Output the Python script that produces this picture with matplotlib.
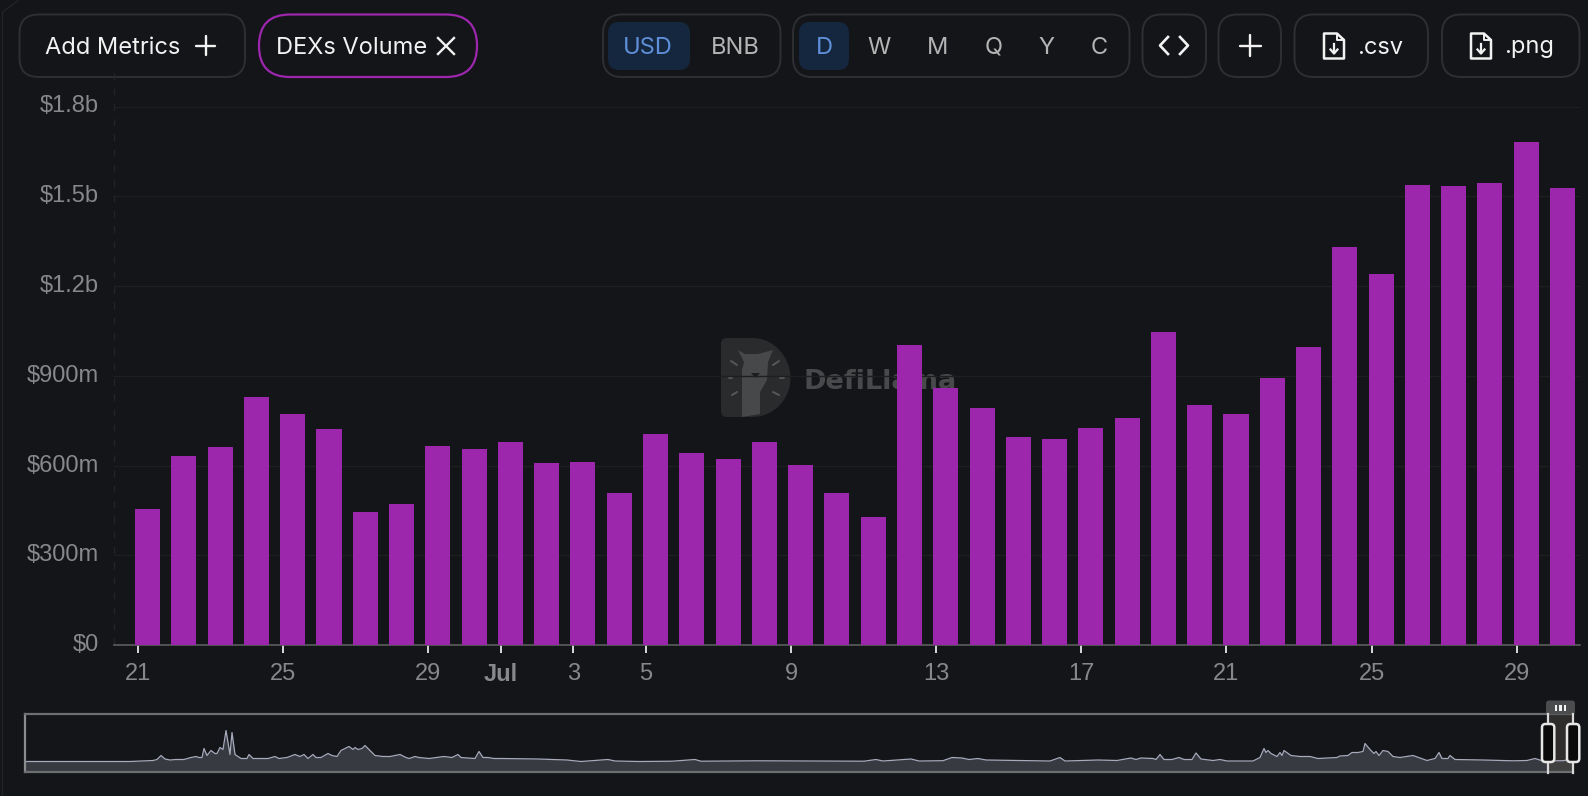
#!/usr/bin/env python3

import numpy as np
from matplotlib import pyplot as plt
from matplotlib.patches import FancyBboxPatch, PathPatch, Polygon, Rectangle
from matplotlib.path import Path

# daily DEX volume in $m, Jun 21 to Jul 30
volume = [456, 632, 663, 829, 771, 721, 443, 470, 664, 656,
          678, 609, 612, 507, 704, 643, 622, 677, 602, 507,
          429, 1003, 860, 792, 694, 687, 724, 758, 1046, 802,
          771, 894, 995, 1331, 1239, 1538, 1534, 1544, 1683, 1527]

tick_days = [0, 4, 8, 10, 12, 14, 18, 22, 26, 30, 34, 38]
tick_labels = ["21", "25", "29", "Jul", "3", "5", "9", "13", "17", "21", "25", "29"]
y_ticks = [0, 300, 600, 900, 1200, 1500, 1800]
y_labels = ["$0", "$300m", "$600m", "$900m", "$1.2b", "$1.5b", "$1.8b"]

# full history in the slider, read by eye
overview_days = [0, 105, 128, 132, 136, 140, 145, 151, 159, 166, 171, 174, 177, 179, 182, 186, 190, 192, 195,
                 198, 201, 205, 207, 210, 216, 222, 224, 228, 235, 243, 250, 254, 262, 270, 275, 279, 283, 288,
                 291, 296, 303, 307, 312, 316, 324, 328, 330, 333, 337, 340, 344, 350, 358, 365, 375, 381, 384,
                 390, 394, 404, 419, 427, 433, 436, 450, 454, 458, 463, 469, 477, 513, 542, 556, 583, 590, 614,
                 647, 670, 676, 705, 733, 781, 810, 839, 851, 858, 886, 894, 918, 927, 937, 944, 953, 961, 992,
                 1025, 1035, 1040, 1073, 1092, 1106, 1111, 1116, 1128, 1131, 1135, 1139, 1147, 1154, 1159, 1167,
                 1171, 1176, 1188, 1195, 1202, 1228, 1235, 1239, 1241, 1243, 1246, 1252, 1255, 1257, 1259, 1266,
                 1275, 1285, 1293, 1312, 1315, 1323, 1327, 1333, 1338, 1340, 1345, 1349, 1351, 1354, 1358, 1363,
                 1368, 1375, 1388, 1402, 1410, 1414, 1417, 1423, 1425, 1430, 1458, 1488, 1502, 1510, 1518, 1538,
                 1545, 1548]
overview_volume = [0, 0, 1, 2, 6, 2.5, 1.5, 2, 2, 4, 5, 4, 4, 13, 6, 11, 8, 8, 14,
                   12, 31, 7, 29, 7, 3, 3, 7, 3, 3, 3, 5, 3, 4, 7, 5, 7, 3, 7,
                   4, 4, 8, 6, 5, 11, 15, 12, 14, 12, 13, 16, 12, 6, 5, 5, 7, 4, 3,
                   5, 4, 3, 5, 4, 7, 4, 3, 10, 4, 4, 3, 3, 2.5, 1.5, 0, 2, 0.5, 0,
                   0.3, 2, 0.3, 0.5, 0.7, 0.5, 0.3, 0.3, 2, 0.5, 2.5, 0.5, 0.8, 4, 3.5, 2, 3, 1.5, 1,
                   0.5, 4, 0.5, 1.5, 1, 3.5, 2, 3.5, 3, 2, 7, 2, 2, 4, 2, 2,
                   8.5, 2.5, 1, 2, 0.5, 0.5, 4, 13, 9, 11, 8, 5, 9, 6, 11, 6,
                   5, 5, 3, 4, 5.5, 6, 9, 9, 10, 18, 12, 8, 10, 6, 11, 10,
                   5, 4, 6, 1, 3, 9, 3, 3, 6, 2, 1.5, 0.7, 1, 3, 0.5, 0.8,
                   2, 4]

BG = "#141518"
PURPLE = "#9c27ad"
BORDER = "#2e2f32"
W, H = 1588, 796

plt.rcParams["font.family"] = ["Liberation Sans", "DejaVu Sans"]

fig = plt.figure(figsize=(W / 100, H / 100), dpi=100, facecolor=BG)


def px_axes(left, top, right, bottom, **kw):
    return fig.add_axes([left / W, 1 - bottom / H, (right - left) / W, (bottom - top) / H], **kw)


# page layer in pixel coordinates: buttons and watermark
ui = px_axes(0, 0, W, H, zorder=1)
ui.set_xlim(0, W)
ui.set_ylim(H, 0)
ui.axis("off")


def box(x0, x1, y0=14.5, y1=77, edge=BORDER, face="none", r=19, lw=1.4):
    ui.add_patch(FancyBboxPatch((x0, y0), x1 - x0, y1 - y0, boxstyle=f"round,pad=0,rounding_size={r}",
                                edgecolor=edge, facecolor=face, linewidth=lw))


def label(x, s, color="#f2f2f2", size=17, ha="center"):
    ui.text(x, 47.5, s, color=color, fontsize=size, ha=ha, va="center", family=["Inter", "DejaVu Sans"])


def plus(cx, cy=45.5, r=9.5):
    ui.plot([cx - r, cx + r], [cy, cy], color="#f2f2f2", lw=1.7, solid_capstyle="round")
    ui.plot([cx, cx], [cy - r, cy + r], color="#f2f2f2", lw=1.7, solid_capstyle="round")


def file_icon(cx, cy=46):
    xs = [cx - 10, cx + 3, cx + 10, cx + 10, cx - 10, cx - 10]
    ys = [cy - 12.5, cy - 12.5, cy - 6, cy + 12.5, cy + 12.5, cy - 12.5]
    ui.add_patch(Polygon(np.column_stack([xs, ys]), closed=True, fill=False, edgecolor="#f2f2f2", lw=1.8,
                         joinstyle="round"))
    ui.plot([cx + 3, cx + 3, cx + 10], [cy - 12.5, cy - 6, cy - 6], color="#f2f2f2", lw=1.4)
    ui.plot([cx, cx], [cy - 2, cy + 7], color="#f2f2f2", lw=1.6)
    ui.plot([cx - 3.5, cx, cx + 3.5], [cy + 3.5, cy + 7.5, cy + 3.5], color="#f2f2f2", lw=1.6)


# left edge of the panel
ui.plot([2.5, 2.5, 18], [H, 12, 0.5], color="#222326", lw=1)

box(19.5, 245)
label(45, "Add Metrics", ha="left")
plus(205.5)

box(259, 477, edge=PURPLE, r=31, lw=1.6)
label(276.5, "DEXs Volume", ha="left")
ui.plot([438, 454], [38, 54], color="#f2f2f2", lw=1.7)
ui.plot([438, 454], [54, 38], color="#f2f2f2", lw=1.7)

box(603, 780.5)
box(608, 690, 22, 70, edge="none", face="#15263f", r=11)
label(648, "USD", color="#5f8fd8")
label(735, "BNB", color="#b4b4b4")

box(793, 1129.5)
box(799, 849, 22, 70, edge="none", face="#15263f", r=11)
label(824, "D", color="#5f8fd8")
for pos, s in zip([879.5, 938, 994, 1046.5, 1099], ["W", "M", "Q", "Y", "C"]):
    label(pos, s, color="#b4b4b4")

box(1142.5, 1206)
ui.plot([1168, 1160, 1168], [37, 45.5, 54], color="#f2f2f2", lw=1.9)
ui.plot([1180, 1188, 1180], [37, 45.5, 54], color="#f2f2f2", lw=1.9)

box(1218.5, 1281)
plus(1250, r=10.5)

box(1294.5, 1428)
file_icon(1334)
label(1380, ".csv")

box(1442, 1579.5)
file_icon(1481)
label(1529, ".png")

# watermark
d_verts = [(727, 338), (752, 338), (774, 338), (790.5, 357), (790.5, 378), (790.5, 399), (774, 417), (752, 417),
           (727, 417), (721, 417), (721, 411), (721, 344), (721, 338), (727, 338)]
d_codes = [Path.MOVETO, Path.LINETO, Path.CURVE4, Path.CURVE4, Path.CURVE4, Path.CURVE4, Path.CURVE4, Path.CURVE4,
           Path.LINETO, Path.CURVE3, Path.CURVE3, Path.LINETO, Path.CURVE3, Path.CURVE3]
ui.add_patch(PathPatch(Path(d_verts, d_codes), facecolor="#2a2b2d", edgecolor="none"))
ui.add_patch(Polygon([(738, 350), (745, 354), (758, 354), (773, 350), (768, 362), (767, 380), (760, 392), (760, 414),
                      (742, 417), (742, 370), (744, 362)], closed=True, facecolor="#47484a", edgecolor="none"))
ui.add_patch(Polygon([(751, 373), (760, 373), (755.5, 378)], closed=True, facecolor="#1c1d1f", edgecolor="none"))
for x0, y0, x1, y1 in [(731, 361, 737, 365), (729, 378, 732, 378), (732, 395, 737, 392),
                       (773, 365, 779, 361), (780, 378, 784, 378), (773, 392, 779, 395)]:
    ui.plot([x0, x1], [y0, y1], color="#57585a", lw=1.4, solid_capstyle="round")
ui.text(804, 382, "DefiLlama", color="#48494b", fontsize=19.5, fontweight="bold", ha="left", va="center",
        family="DejaVu Sans")

# bars
ax = px_axes(114, 70, 1580, 645, zorder=2)
ax.patch.set_alpha(0)
days = np.arange(len(volume))
day_px = 36.28
ax.set_xlim((114 - 138) / day_px, (1580 - 138) / day_px)
ax.set_ylim(0, 1800 * (645 - 70) / (645 - 106.5))
ax.bar(days - 0.08, volume, width=0.69, align="edge", color=PURPLE, zorder=3)

ax.set_yticks(y_ticks, labels=y_labels)
ax.set_xticks(tick_days, labels=tick_labels)
ax.tick_params(axis="y", length=0, pad=11, labelcolor="#87888a", labelsize=17)
ax.tick_params(axis="x", length=5.8, width=1.3, color="#e8e8e8", pad=7.5, labelcolor="#87888a", labelsize=17)
ax.get_xticklabels()[3].set_fontweight("bold")
for lab in ax.get_yticklabels():
    lab.set_y(lab.get_position()[1])
    lab.set_verticalalignment("center")
ax.grid(axis="y", color="#1d1f21", lw=1, zorder=0)
for side in ["top", "right", "left"]:
    ax.spines[side].set_visible(False)
ax.spines["bottom"].set_color("#5b5c5e")
ax.spines["bottom"].set_linewidth(1.2)
ax.plot([0, 0], [0, 1], transform=ax.transAxes, color="#222428", lw=1, ls=(0, (5, 6)), clip_on=False)

# slider
ov = px_axes(25, 714, 1573, 772, zorder=2)
ov.set_facecolor("none")
ov.set_xlim(0, 1548)
ov.set_ylim(-10.5, 47.5)
ov.fill_between(overview_days, overview_volume, -10.5, color="#383a42", lw=0)
ov.plot(overview_days, overview_volume, color="#a6aabb", lw=0.9)
ov.add_patch(Rectangle((1523, -10.5), 25, 58, facecolor="#4a4640", alpha=0.5, edgecolor="none"))
ov.set_xticks([])
ov.set_yticks([])
for spine in ov.spines.values():
    spine.set_color("#6e6f71")
    spine.set_linewidth(1.6)
ov.spines["left"].set_color("#8b8c8e")
ov.spines["right"].set_visible(False)

# slider handles, above everything else
top = px_axes(0, 0, W, H, zorder=3)
top.set_xlim(0, W)
top.set_ylim(H, 0)
top.axis("off")
top.add_patch(FancyBboxPatch((1546, 700.5), 29, 14, boxstyle="round,pad=0,rounding_size=3", facecolor="#4b4c4e",
                             edgecolor="none"))
for bar_x in [1556, 1560.5, 1565]:
    top.add_patch(Rectangle((bar_x - 1.1, 704.5), 2.2, 6, facecolor="#f2f2f2", edgecolor="none"))
for cx in [1548, 1573]:
    top.plot([cx, cx], [714, 773], color="#d9d9d9", lw=1.6)
    top.add_patch(FancyBboxPatch((cx - 6, 724), 12.3, 38, boxstyle="round,pad=0,rounding_size=3.5",
                                 facecolor="#0a0a0b", edgecolor="#e6e6e6", lw=1.8, zorder=4))

plt.savefig("out.png", dpi=100, facecolor=BG)
